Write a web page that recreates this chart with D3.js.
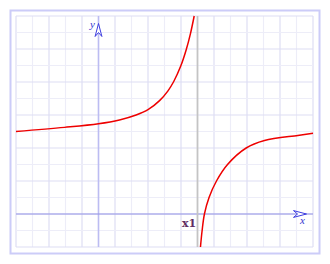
<!DOCTYPE html>
<html>
<head>
<meta charset="utf-8">
<script src="https://cdn.jsdelivr.net/npm/d3@7"></script>
<style>
  body { margin: 0; background: #fff; }
</style>
</head>
<body>
<div id="chart"></div>
<script>
// curve points (x, y in grid units)
var leftX  = [-5, -2.06, 0, 1.27, 2.28, 3.0, 3.7, 4.2, 4.56, 4.99, 5.32, 5.57, 5.8];
var leftY  = [5.0, 5.25, 5.47, 5.7, 6.0, 6.32, 6.87, 7.45, 8.03, 8.98, 9.97, 10.92, 12.0];
var rightX = [6.18, 6.28, 6.42, 6.70, 7.15, 7.82, 8.95, 10.06, 12.08, 13.0];
var rightY = [-2, -1, 0, 1, 2, 3, 4, 4.45, 4.76, 4.89];
var asymX = 6;
var xLabel = "x", yLabel = "y", markLabel = "x1";

var svgWidth = 330, svgHeight = 264;

var svg = d3.select("#chart").append("svg")
  .attr("width", svgWidth)
  .attr("height", svgHeight);

var x = d3.scaleLinear().domain([-5, 13]).range([16, 313]);
var y = d3.scaleLinear().domain([-2, 12]).range([247, 16]);

// frame
svg.append("rect")
  .attr("x", 10.5).attr("y", 10.5)
  .attr("width", 309).attr("height", 243)
  .attr("fill", "none")
  .attr("stroke", "#ccccf8")
  .attr("stroke-width", 2);

// grid
var gx = d3.range(-5, 14), gy = d3.range(-2, 13);
svg.append("g").selectAll("line")
  .data(gx)
  .enter().append("line")
  .attr("x1", d => x(d)).attr("x2", d => x(d))
  .attr("y1", y(-2)).attr("y2", y(12))
  .attr("stroke", d => Math.abs(d) % 2 == 1 ? "#dedef4" : "#ededf8")
  .attr("stroke-width", 1.2);
svg.append("g").selectAll("line")
  .data(gy)
  .enter().append("line")
  .attr("y1", d => y(d)).attr("y2", d => y(d))
  .attr("x1", x(-5)).attr("x2", x(13))
  .attr("stroke", d => Math.abs(d) % 2 == 0 ? "#dedef4" : "#ededf8")
  .attr("stroke-width", 1.2);

// axes
svg.append("line")
  .attr("x1", x(0)).attr("x2", x(0))
  .attr("y1", y(-2)).attr("y2", y(12))
  .attr("stroke", "#bcbcf2").attr("stroke-width", 1.6);
svg.append("line")
  .attr("x1", x(-5)).attr("x2", x(13))
  .attr("y1", y(0)).attr("y2", y(0))
  .attr("stroke", "#9494e6").attr("stroke-width", 1);

// asymptote
svg.append("line")
  .attr("x1", x(asymX)).attr("x2", x(asymX))
  .attr("y1", y(-2)).attr("y2", y(12))
  .attr("stroke", "#c4c4c4").attr("stroke-width", 1.8);

// arrow heads (hollow)
function arrow(tx, ty, rot) {
  svg.append("path")
    .attr("d", "M0,0 L-13,-3.4 L-9,0 L-13,3.4 Z")
    .attr("transform", "translate(" + tx + "," + ty + ") rotate(" + rot + ")")
    .attr("fill", "#fff")
    .attr("stroke", "#3d3de0")
    .attr("stroke-width", 1);
}
arrow(306.5, y(0), 0);
arrow(x(0), 23.5, -90);

svg.append("text")
  .attr("x", 90).attr("y", 28)
  .attr("font-family", "'Liberation Serif', serif")
  .attr("font-style", "italic")
  .attr("font-size", 11)
  .attr("fill", "#3535d0")
  .text(yLabel);
svg.append("text")
  .attr("x", 300).attr("y", 224)
  .attr("font-family", "'Liberation Serif', serif")
  .attr("font-style", "italic")
  .attr("font-size", 11)
  .attr("fill", "#3535d0")
  .text(xLabel);
svg.append("text")
  .attr("x", 182).attr("y", 227)
  .attr("font-family", "'DejaVu Serif', serif")
  .attr("font-weight", "bold")
  .attr("font-size", 11)
  .attr("fill", "#5e2d63")
  .text(markLabel);

// curve
var line = d3.line()
  .x(d => x(d[0]))
  .y(d => y(d[1]))
  .curve(d3.curveCatmullRom.alpha(0.5));

svg.append("path")
  .attr("d", line(d3.zip(leftX, leftY)))
  .attr("fill", "none").attr("stroke", "#ee0000").attr("stroke-width", 1.5);
svg.append("path")
  .attr("d", line(d3.zip(rightX, rightY)))
  .attr("fill", "none").attr("stroke", "#ee0000").attr("stroke-width", 1.5);
</script>
</body>
</html>
